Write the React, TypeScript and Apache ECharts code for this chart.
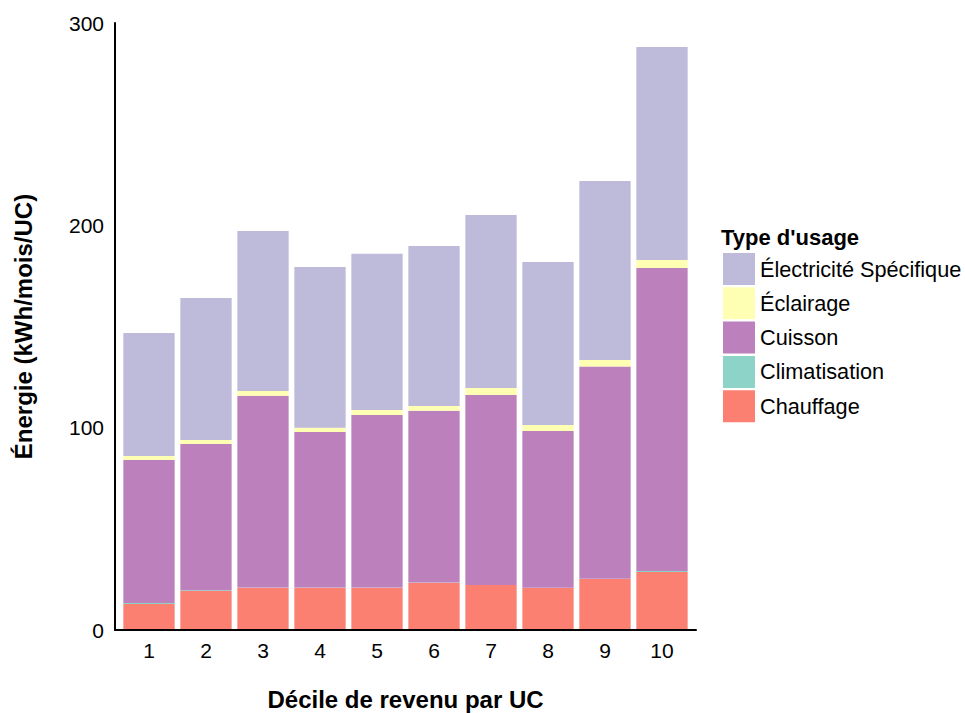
import React, { useEffect, useRef } from "react";
import * as echarts from "echarts";

const deciles = ["1", "2", "3", "4", "5", "6", "7", "8", "9", "10"];
const chauffage = [12.9, 19.3, 20.9, 20.9, 20.9, 23.4, 22.2, 20.8, 25.2, 28.7];
const climatisation = [0.4, 0.4, 0.1, 0.1, 0.1, 0.1, 0.1, 0.1, 0.1, 0.4];
const cuisson = [70.7, 72.2, 94.8, 76.9, 85.3, 84.8, 93.9, 77.5, 104.9, 149.8];
const eclairage = [2.0, 2.0, 2.3, 2.0, 2.4, 2.4, 3.4, 2.9, 3.3, 4.0];
const electricite = [60.8, 70.2, 79.1, 79.5, 77.2, 79.1, 85.5, 80.6, 88.4, 105.3];
const yTicks = [0, 100, 200, 300];

const FONT = "'Liberation Sans', Arial, Helvetica, sans-serif";

export default function App() {
  const ref = useRef<HTMLDivElement>(null);
  useEffect(() => {
    if (!ref.current) return;
    const chart = echarts.init(ref.current, null, { renderer: "svg" });
    const mk = (name: string, data: number[], color: string) => ({
      name,
      type: "bar",
      stack: "total",
      xAxisIndex: 0,
      yAxisIndex: 0,
      barWidth: "90%",
      data,
      itemStyle: { color },
      emphasis: { disabled: true },
    });
    chart.setOption({
      animation: false,
      textStyle: { fontFamily: FONT },
      title: {
        text: "Type d'usage",
        left: 721,
        top: 226,
        padding: 0,
        textStyle: { fontFamily: FONT, fontSize: 22, fontWeight: "bold", color: "#000" },
      },
      legend: {
        orient: "vertical",
        left: 723,
        top: 253,
        padding: 0,
        width: 242,
        itemWidth: 32,
        itemHeight: 32,
        itemGap: 2.3,
        icon: "rect",
        data: ["Électricité Spécifique", "Éclairage", "Cuisson", "Climatisation", "Chauffage"],
        textStyle: { fontFamily: FONT, fontSize: 21.7, color: "#000", overflow: "none" },
        selectedMode: false,
      },
      grid: [
        { left: 120.5, width: 570, top: 23, height: 607, outerBoundsMode: "none", containLabel: false },
        { left: 115, width: 581, top: 23, height: 607, outerBoundsMode: "none", containLabel: false },
      ],
      xAxis: [
        {
          type: "category",
          gridIndex: 0,
          data: deciles,
          axisLine: { show: false },
          axisTick: { show: false },
          axisLabel: { fontFamily: FONT, fontSize: 21, color: "#000", margin: 10 },
        },
        {
          type: "value",
          gridIndex: 1,
          min: 0.4,
          max: 10.6,
          z: 5,
          axisLine: { show: true, lineStyle: { color: "#000", width: 2 } },
          axisTick: { show: false },
          axisLabel: { show: false },
          splitLine: { show: false },
          name: "Décile de revenu par UC",
          nameLocation: "middle",
          nameGap: 57,
          nameTextStyle: { fontFamily: FONT, fontSize: 24, fontWeight: "bold", color: "#000" },
        },
      ],
      yAxis: [
        {
          type: "value",
          gridIndex: 0,
          min: 0,
          max: 300,
          show: false,
          splitLine: { show: false },
        },
        {
          type: "value",
          gridIndex: 1,
          min: yTicks[0],
          max: yTicks[yTicks.length - 1],
          interval: 100,
          z: 5,
          axisLine: { show: true, lineStyle: { color: "#000", width: 2 } },
          axisTick: { show: false },
          splitLine: { show: false },
          axisLabel: { fontFamily: FONT, fontSize: 21, color: "#000", margin: 11 },
          name: "Énergie (kWh/mois/UC)",
          nameLocation: "middle",
          nameRotate: 90,
          nameGap: 80,
          nameTextStyle: { fontFamily: FONT, fontSize: 24, fontWeight: "bold", color: "#000" },
        },
      ],
      series: [
        mk("Chauffage", chauffage, "#FB8072"),
        mk("Climatisation", climatisation, "#8DD3C7"),
        mk("Cuisson", cuisson, "#BC80BD"),
        mk("Éclairage", eclairage, "#FFFFB3"),
        mk("Électricité Spécifique", electricite, "#BEBADA"),
      ],
    });
    return () => chart.dispose();
  }, []);
  return (
    <div
      ref={ref}
      style={{ position: "absolute", left: 0, top: 0, width: 965, height: 713 }}
    />
  );
}
